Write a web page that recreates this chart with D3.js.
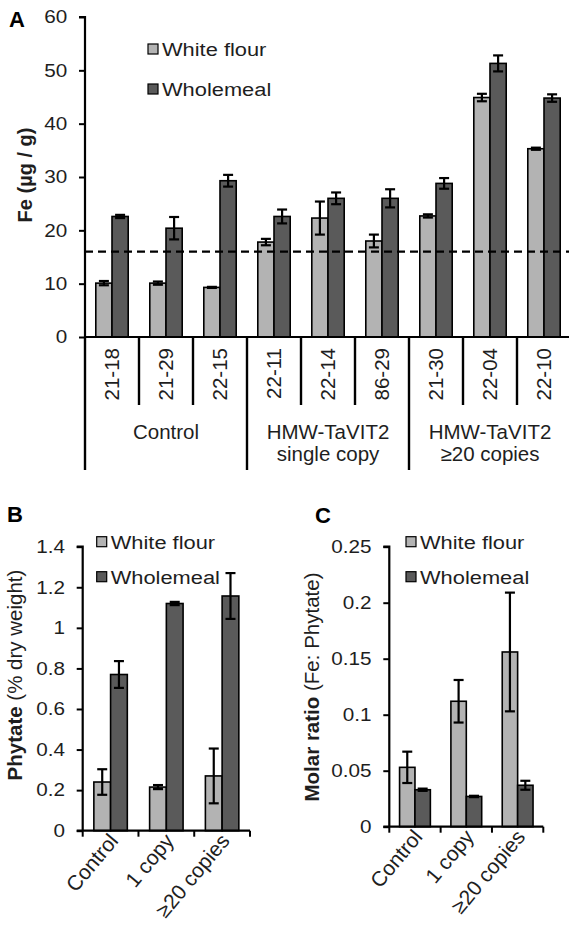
<!DOCTYPE html>
<html>
<head>
<meta charset="utf-8">
<script src="https://cdn.jsdelivr.net/npm/d3@7"></script>
<style>
  body { margin: 0; background: #fff; }
  svg { display: block; font-family: "Liberation Sans", Arial, sans-serif; }
</style>
</head>
<body>
<div id="chart"></div>
<script>
// ---- data ----
const seriesNames = ["White flour", "Wholemeal"];
const seriesFill = ["#b3b3b3", "#5a5a5a"];

// panel A - Fe per line
const linesA = ["21-18", "21-29", "22-15", "22-11", "22-14", "86-29", "21-30", "22-04", "22-10"];
const feWhite = [10.1, 10.1, 9.3, 17.8, 22.3, 18.0, 22.7, 44.9, 35.3];
const feWhiteErr = [0.4, 0.3, 0.1, 0.6, 3.1, 1.2, 0.3, 0.7, 0.2];
const feWhole = [22.6, 20.4, 29.3, 22.6, 26.0, 26.0, 28.8, 51.3, 44.8];
const feWholeErr = [0.3, 2.1, 1.1, 1.3, 1.1, 1.7, 1.0, 1.5, 0.7];
const feTicks = [0, 10, 20, 30, 40, 50, 60];
const feThreshold = 16;
const groupsA = [
  { lines: ["Control"], n: 3 },
  { lines: ["HMW-TaVIT2", "single copy"], n: 3 },
  { lines: ["HMW-TaVIT2", "\u226520 copies"], n: 3 }
];

// panels B and C
const groupsBC = ["Control", "1 copy", "\u226520 copies"];
const phyWhite = [0.24, 0.215, 0.27];
const phyWhiteErr = [0.063, 0.01, 0.135];
const phyWhole = [0.77, 1.12, 1.157];
const phyWholeErr = [0.066, 0.008, 0.113];
const phyTicks = [0, 0.2, 0.4, 0.6, 0.8, 1, 1.2, 1.4];

const molWhite = [0.053, 0.112, 0.156];
const molWhiteErr = [0.014, 0.019, 0.053];
const molWhole = [0.033, 0.027, 0.037];
const molWholeErr = [0.001, 0.0006, 0.004];
const molTicks = [0, 0.05, 0.1, 0.15, 0.2, 0.25];

const W = 569, H = 933;
const SX = 1.15; // the figure's lettering is a bit wide
const ink = "#1e1e1e";
const svg = d3.select("#chart").append("svg").attr("width", W).attr("height", H);

const fmt = d => String(+d.toFixed(3));

// draws bars + error bars for one panel
function drawBars(g, cats, vals, errs, x, y) {
  const sub = d3.scaleBand().domain(seriesNames).range([x.bandwidth() * 0.2, x.bandwidth() * 0.8]);
  const rows = [];
  cats.forEach((c, i) => {
    seriesNames.forEach((s, j) => {
      rows.push({ c, s, j, v: vals[j][i], e: errs[j][i] });
    });
  });
  g.append("g").selectAll("rect").data(rows).join("rect")
    .attr("x", d => x(d.c) + sub(d.s))
    .attr("y", d => y(d.v))
    .attr("width", sub.bandwidth())
    .attr("height", d => y(0) - y(d.v))
    .attr("fill", d => seriesFill[d.j])
    .attr("stroke", "#000").attr("stroke-width", 1.6);

  const eb = g.append("g").attr("stroke", "#000").attr("stroke-width", 2.2);
  rows.forEach(d => {
    const cx = x(d.c) + sub(d.s) + sub.bandwidth() / 2;
    eb.append("line").attr("x1", cx).attr("x2", cx).attr("y1", y(d.v - d.e)).attr("y2", y(d.v + d.e));
    [d.v - d.e, d.v + d.e].forEach(v => {
      eb.append("line").attr("x1", cx - 5).attr("x2", cx + 5).attr("y1", y(v)).attr("y2", y(v));
    });
  });
}

function drawYAxis(g, y, ticks, xPos) {
  const ax = g.append("g").attr("transform", `translate(${xPos},0)`)
    .call(d3.axisLeft(y).tickValues(ticks).tickFormat(fmt).tickSize(6).tickPadding(9.5));
  ax.select(".domain").attr("stroke-width", 2.2).attr("d", `M-6,${y.range()[1]}H0V${y.range()[0]}`);
  ax.selectAll(".tick line").attr("stroke-width", 2);
  ax.selectAll(".tick text").attr("font-size", 18).attr("fill", ink)
    .attr("font-family", "Liberation Sans, Arial").attr("transform", `scale(${SX},1)`);
}

function legend(g, lx, ly, gap) {
  seriesNames.forEach((s, j) => {
    const cy = ly + j * gap;
    g.append("rect").attr("x", lx).attr("y", cy - 5).attr("width", 10).attr("height", 10)
      .attr("fill", seriesFill[j]).attr("stroke", "#000").attr("stroke-width", 1.2);
    g.append("text").attr("transform", `translate(${lx + 14},${cy + 7}) scale(${SX},1)`)
      .attr("font-size", 19).attr("fill", ink).text(s);
  });
}

// ---------------- panel A ----------------
const gA = svg.append("g");
const xA = d3.scaleBand().domain(linesA).range([85, 571]);
const yA = d3.scaleLinear().domain([0, 60]).range([337, 17]);

drawBars(gA, linesA, [feWhite, feWhole], [feWhiteErr, feWholeErr], xA, yA);

gA.append("line")
  .attr("x1", 85).attr("x2", W).attr("y1", yA(feThreshold)).attr("y2", yA(feThreshold))
  .attr("stroke", "#000").attr("stroke-width", 2.4).attr("stroke-dasharray", "8,5");

drawYAxis(gA, yA, feTicks, 85);
gA.append("line").attr("x1", 85).attr("x2", W).attr("y1", yA(0)).attr("y2", yA(0))
  .attr("stroke", "#000").attr("stroke-width", 2.2);

// category separators and labels
let idx = 0;
const groupEdges = [0];
groupsA.forEach(gr => { idx += gr.n; groupEdges.push(idx); });
d3.range(linesA.length + 1).forEach(i => {
  const xx = i < linesA.length ? xA(linesA[i]) : xA.range()[1];
  const isGroup = groupEdges.includes(i);
  gA.append("line").attr("x1", xx).attr("x2", xx).attr("y1", yA(0))
    .attr("y2", isGroup ? 470 : 405).attr("stroke", "#000").attr("stroke-width", 2.4);
});
gA.append("g").selectAll("text").data(linesA).join("text")
  .attr("transform", d => `translate(${xA(d) + xA.bandwidth() / 2},348) rotate(-90)`)
  .attr("text-anchor", "end").attr("dy", "0.35em")
  .attr("font-size", 20.5).attr("fill", ink).text(d => d);

groupsA.forEach((gr, k) => {
  const x0 = xA(linesA[groupEdges[k]]);
  const x1 = groupEdges[k + 1] < linesA.length ? xA(linesA[groupEdges[k + 1]]) : xA.range()[1];
  const t = gA.append("text").attr("text-anchor", "middle").attr("font-size", 20.5).attr("fill", ink);
  gr.lines.forEach((ln, m) => {
    t.append("tspan").attr("x", (x0 + x1) / 2).attr("y", 439 + m * 22).text(ln);
  });
});

gA.append("text").attr("transform", "translate(32,175) rotate(-90)")
  .attr("text-anchor", "middle").attr("font-size", 20).attr("font-weight", "bold").attr("fill", ink)
  .text("Fe (\u00b5g / g)");
gA.append("text").attr("x", 9).attr("y", 27).attr("font-size", 22).attr("font-weight", "bold").text("A");
legend(gA, 148, 49, 40);

// ---------------- panels B, C ----------------
function smallPanel(cfg) {
  const g = svg.append("g");
  const x = d3.scaleBand().domain(groupsBC).range(cfg.xr);
  const y = d3.scaleLinear().domain([0, cfg.max]).range(cfg.yr);
  drawBars(g, groupsBC, cfg.vals, cfg.errs, x, y);
  drawYAxis(g, y, cfg.ticks, cfg.xr[0]);
  // x axis with boundary ticks
  g.append("line").attr("x1", cfg.xr[0] - 6).attr("x2", cfg.xr[1]).attr("y1", y(0)).attr("y2", y(0))
    .attr("stroke", "#000").attr("stroke-width", 2.2);
  d3.range(groupsBC.length + 1).forEach(i => {
    const xx = i < groupsBC.length ? x(groupsBC[i]) : cfg.xr[1];
    g.append("line").attr("x1", xx).attr("x2", xx).attr("y1", y(0)).attr("y2", y(0) + 6)
      .attr("stroke", "#000").attr("stroke-width", 2);
  });
  g.append("g").selectAll("text").data(groupsBC).join("text")
    .attr("transform", d => `translate(${x(d) + x.bandwidth() / 2 + 3},${y(0) + 6}) rotate(-50)`)
    .attr("text-anchor", "end").attr("dy", "0.35em")
    .attr("font-size", 21).attr("fill", ink).text(d => d);
  const t = g.append("text")
    .attr("transform", `translate(${cfg.titleX},${cfg.titleY}) rotate(-90)`)
    .attr("text-anchor", "middle").attr("font-size", 20.5).attr("fill", ink);
  t.append("tspan").attr("font-weight", "bold").text(cfg.title[0]);
  t.append("tspan").text(cfg.title[1]);
  g.append("text").attr("x", cfg.letterX).attr("y", cfg.letterY).attr("font-size", 22)
    .attr("font-weight", "bold").text(cfg.letter);
  legend(g, cfg.legX, 541.7, 35);
}

smallPanel({
  xr: [82.7, 250], yr: [830.7, 546.7], max: 1.4, ticks: phyTicks,
  vals: [phyWhite, phyWhole], errs: [phyWhiteErr, phyWholeErr],
  title: ["Phytate", " (% dry weight)"], titleX: 22, titleY: 675,
  letter: "B", letterX: 7, letterY: 522, legX: 96.7
});
smallPanel({
  xr: [389.3, 543.3], yr: [826.7, 546.7], max: 0.25, ticks: molTicks,
  vals: [molWhite, molWhole], errs: [molWhiteErr, molWholeErr],
  title: ["Molar ratio", " (Fe: Phytate)"], titleX: 319, titleY: 687,
  letter: "C", letterX: 315, letterY: 523, legX: 406
});
</script>
</body>
</html>
